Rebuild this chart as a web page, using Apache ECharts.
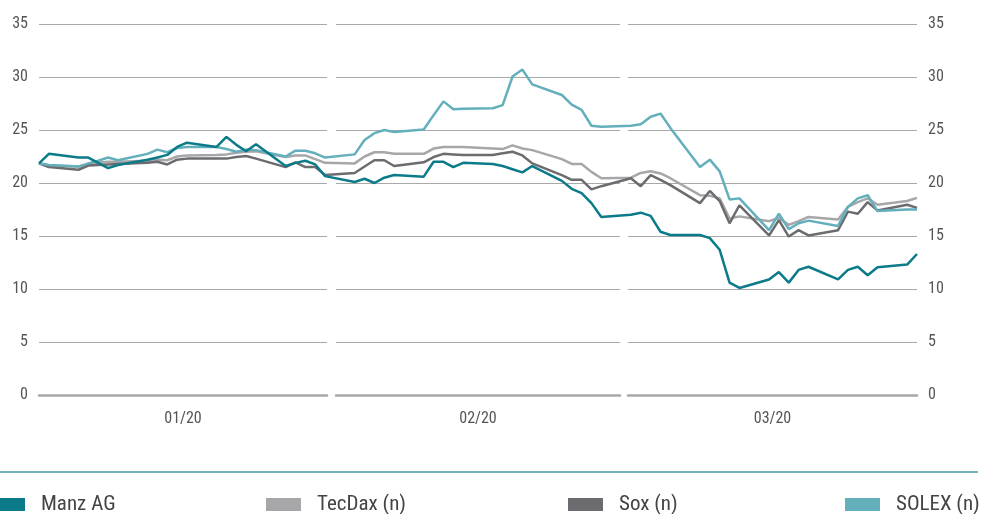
<!DOCTYPE html>
<html>
<head>
<meta charset="utf-8">
<script src="https://cdn.jsdelivr.net/npm/echarts@6/dist/echarts.min.js"></script>
<style>
  html, body { margin: 0; padding: 0; background: #fff; }
  #chart { width: 992px; height: 514px; }
</style>
</head>
<body>
<div id="chart"></div>
<script>
// trading days, Jan - Mar 2020
var dates = [
  '2020-01-02', '2020-01-03', '2020-01-06', '2020-01-07', '2020-01-08', '2020-01-09', '2020-01-10',
  '2020-01-13', '2020-01-14', '2020-01-15', '2020-01-16', '2020-01-17', '2020-01-20', '2020-01-21',
  '2020-01-22', '2020-01-23', '2020-01-24', '2020-01-27', '2020-01-28', '2020-01-29', '2020-01-30',
  '2020-01-31',
  '2020-02-03', '2020-02-04', '2020-02-05', '2020-02-06', '2020-02-07', '2020-02-10', '2020-02-11',
  '2020-02-12', '2020-02-13', '2020-02-14', '2020-02-17', '2020-02-18', '2020-02-19', '2020-02-20',
  '2020-02-21', '2020-02-24', '2020-02-25', '2020-02-26', '2020-02-27', '2020-02-28',
  '2020-03-02', '2020-03-03', '2020-03-04', '2020-03-05', '2020-03-06', '2020-03-09', '2020-03-10',
  '2020-03-11', '2020-03-12', '2020-03-13', '2020-03-16', '2020-03-17', '2020-03-18', '2020-03-19',
  '2020-03-20', '2020-03-23', '2020-03-24', '2020-03-25', '2020-03-26', '2020-03-27', '2020-03-30',
  '2020-03-31'
];

var manzAG = [
  21.86, 22.75, 22.4, 22.4, 21.9, 21.4, 21.7, 22.2, 22.4, 22.65, 23.4, 23.8, 23.4, 24.35, 23.6, 23.0, 23.65, 21.6, 21.9, 22.1, 21.75, 20.65,
  20.1, 20.4, 20.0, 20.5, 20.75, 20.6, 22.0, 22.0, 21.5, 21.9, 21.8, 21.6, 21.3, 21.0, 21.6, 20.2, 19.45, 19.05, 18.1, 16.8,
  17.0, 17.2, 16.9, 15.4, 15.1, 15.1, 14.8, 13.7, 10.6, 10.1, 10.9, 11.6, 10.6, 11.8, 12.1, 10.9, 11.8, 12.1, 11.3, 12.05, 12.3, 13.3
];
var tecDax = [
  21.86, 21.65, 21.55, 21.8, 21.9, 22.0, 22.0, 22.1, 22.2, 22.15, 22.5, 22.6, 22.65, 22.7, 22.85, 22.95, 23.0, 22.45, 22.6, 22.6, 22.25, 21.9,
  21.85, 22.5, 22.9, 22.9, 22.75, 22.75, 23.25, 23.4, 23.4, 23.4, 23.25, 23.2, 23.55, 23.25, 23.1, 22.25, 21.8, 21.8, 21.05, 20.45,
  20.5, 20.95, 21.1, 20.9, 20.45, 18.85, 18.8, 18.55, 16.65, 16.85, 16.4, 16.7, 16.05, 16.4, 16.8, 16.55, 17.75, 18.2, 18.55, 17.95, 18.3, 18.6
];
var sox = [
  21.86, 21.5, 21.25, 21.65, 21.7, 21.75, 21.8, 21.9, 22.0, 21.75, 22.2, 22.3, 22.3, 22.3, 22.45, 22.55, 22.3, 21.5, 21.95, 21.5, 21.5, 20.75,
  20.95, 21.55, 22.15, 22.15, 21.6, 21.95, 22.45, 22.75, 22.7, 22.65, 22.65, 22.8, 22.95, 22.6, 21.85, 20.75, 20.3, 20.3, 19.4, 19.7,
  20.45, 19.7, 20.75, 20.3, 19.8, 18.1, 19.25, 18.3, 16.2, 17.9, 15.05, 16.5, 14.95, 15.55, 15.05, 15.55, 17.3, 17.1, 18.2, 17.4, 17.95, 17.65
];
var solex = [
  21.86, 21.7, 21.55, 21.85, 22.1, 22.4, 22.15, 22.75, 23.15, 22.9, 23.3, 23.4, 23.4, 23.2, 22.95, 23.15, 23.1, 22.5, 23.05, 23.05, 22.8, 22.4,
  22.7, 24.05, 24.7, 25.0, 24.8, 25.05, 26.4, 27.7, 26.95, 27.0, 27.05, 27.35, 30.05, 30.7, 29.3, 28.3, 27.4, 26.9, 25.4, 25.3,
  25.4, 25.55, 26.25, 26.55, 25.2, 21.5, 22.2, 21.1, 18.45, 18.55, 15.55, 17.1, 15.65, 16.2, 16.45, 15.95, 17.75, 18.55, 18.85, 17.35, 17.5, 17.5
];

var monthLabels = ['01/20', '02/20', '03/20'];
var seriesNames = ['Manz AG', 'TecDax (n)', 'Sox (n)', 'SOLEX (n)'];
var seriesColors = ['#0b7b89', '#a7a7a9', '#6c6c70', '#63afbc'];

var font = "'Liberation Sans Narrow', 'Roboto Condensed', 'Arial Narrow', sans-serif";
var gridColor = '#a9a9a9';

var chart = echarts.init(document.getElementById('chart'), null, { renderer: 'canvas' });

function pairs(values) {
  return values.map(function (v, i) { return [dates[i], v]; });
}

// three month panels (gridlines with gaps between months) + one overlay for the lines
var panels = [
  { left: 39, width: 288 },
  { left: 336, width: 284 },
  { left: 628, width: 289 }
];

var grids = panels.map(function (p) {
  return { left: p.left, width: p.width, top: 24, height: 371 };
});
grids.push({ left: 39, width: 878, top: 24, height: 371 });

var xAxes = panels.map(function (p, i) {
  return {
    type: 'category',
    gridIndex: i,
    data: [monthLabels[i]],
    axisLine: { lineStyle: { color: gridColor, width: 2.5 } },
    axisTick: { show: false },
    axisLabel: { color: '#555', fontFamily: font, fontSize: 16, margin: 16 }
  };
});
xAxes.push({
  type: 'time',
  gridIndex: 3,
  min: '2020-01-02',
  max: '2020-03-31',
  show: false
});

var yAxes = panels.map(function (p, i) {
  return {
    type: 'value',
    gridIndex: i,
    min: 0,
    max: 35,
    interval: 5,
    position: i === 2 ? 'right' : 'left',
    axisLine: { show: false },
    axisTick: { show: false },
    splitLine: { lineStyle: { color: gridColor, width: 1 } },
    axisLabel: {
      show: i !== 1,
      color: '#555',
      fontFamily: font,
      fontSize: 16,
      margin: 11,
      padding: [0, 0, 9, 0]
    }
  };
});
yAxes.push({ type: 'value', gridIndex: 3, min: 0, max: 35, show: false });

var valueSets = [manzAG, tecDax, sox, solex];
var drawOrder = [1, 2, 3, 0]; // Manz AG on top

var series = drawOrder.map(function (k) {
  return {
    name: seriesNames[k],
    type: 'line',
    xAxisIndex: 3,
    yAxisIndex: 3,
    data: pairs(valueSets[k]),
    showSymbol: false,
    color: seriesColors[k],
    lineStyle: { color: seriesColors[k], width: 2.5 },
    z: 3
  };
});

var legendLefts = [-15, 261, 563, 840];
var legends = seriesNames.map(function (name, i) {
  return {
    data: [name],
    left: legendLefts[i],
    top: 489,
    icon: 'rect',
    itemWidth: 35,
    itemHeight: 13,
    selectedMode: false,
    textStyle: { color: '#444', fontFamily: font, fontSize: 21, padding: [0, 0, 0, 11] }
  };
});

var option = {
  backgroundColor: '#fff',
  animation: false,
  grid: grids,
  xAxis: xAxes,
  yAxis: yAxes,
  legend: legends,
  graphic: [{
    type: 'line',
    shape: { x1: 0, y1: 472, x2: 978, y2: 472 },
    style: { stroke: '#3f9aa6', lineWidth: 1.5 }
  }],
  series: series
};

chart.setOption(option);
</script>
</body>
</html>
